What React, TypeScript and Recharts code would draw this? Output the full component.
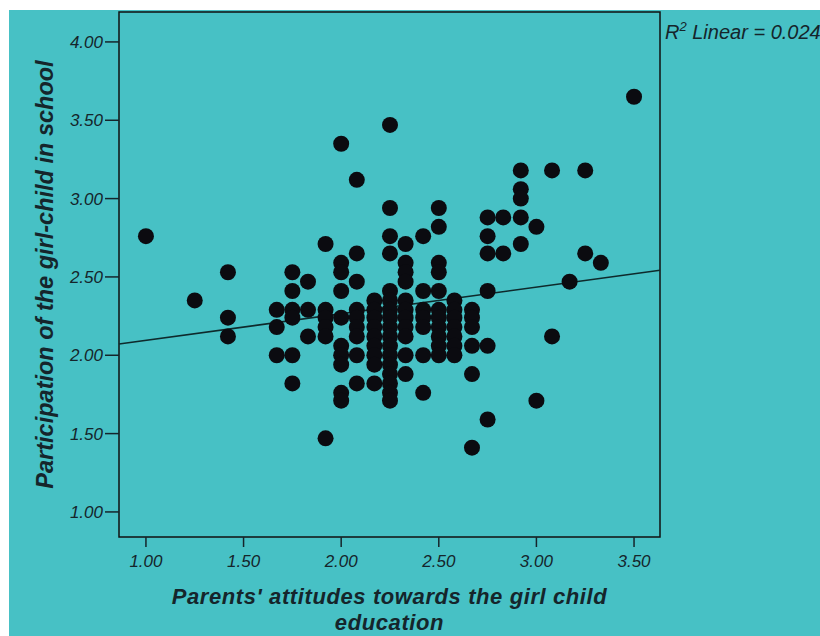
import { ReferenceArea, ReferenceLine, Scatter, ScatterChart, XAxis, YAxis } from 'recharts'

// parents' attitude score (x) -> participation scores (y) of every respondent at that score
const attitudeLevels = [
    1.00, 1.25, 1.42, 1.67, 1.75, 1.83, 1.92, 2.00, 2.08, 2.17, 2.25, 2.33, 2.42, 2.50,
    2.58, 2.67, 2.75, 2.83, 2.92, 3.00, 3.08, 3.17, 3.25, 3.33, 3.50,
]

const participationByLevel = [
    [2.76],
    [2.35],
    [2.53, 2.24, 2.12],
    [2.29, 2.18, 2.00],
    [2.53, 2.41, 2.29, 2.24, 2.00, 1.82],
    [2.47, 2.29, 2.12],
    [2.71, 2.29, 2.24, 2.18, 2.12, 1.47],
    [3.35, 2.59, 2.53, 2.41, 2.24, 2.06, 2.00, 1.94, 1.76, 1.71],
    [3.12, 2.65, 2.47, 2.29, 2.24, 2.18, 2.12, 2.00, 1.82],
    [2.35, 2.29, 2.24, 2.18, 2.12, 2.06, 2.00, 1.94, 1.82],
    [3.47, 2.94, 2.76, 2.65, 2.41, 2.35, 2.29, 2.24, 2.18, 2.12, 2.06, 2.00, 1.94, 1.88, 1.82, 1.76, 1.71],
    [2.71, 2.59, 2.53, 2.47, 2.35, 2.29, 2.24, 2.18, 2.12, 2.00, 1.88],
    [2.76, 2.41, 2.29, 2.24, 2.18, 2.00, 1.76],
    [2.94, 2.82, 2.59, 2.53, 2.41, 2.29, 2.24, 2.18, 2.12, 2.06, 2.00],
    [2.35, 2.29, 2.24, 2.18, 2.12, 2.06, 2.00],
    [2.29, 2.24, 2.18, 2.06, 1.88, 1.41],
    [2.88, 2.76, 2.65, 2.41, 2.06, 1.59],
    [2.88, 2.65],
    [3.18, 3.06, 3.00, 2.88, 2.71],
    [2.82, 1.71],
    [3.18, 2.12],
    [2.47],
    [3.18, 2.65],
    [2.59],
    [3.65],
]

const xTicks = [1.0, 1.5, 2.0, 2.5, 3.0, 3.5]
const yTicks = [1.0, 1.5, 2.0, 2.5, 3.0, 3.5, 4.0]
const xDomain = [0.862, 3.633]
const yDomain = [0.84, 4.191]

// fitted line (R2 linear = 0.024)
const fitIntercept = 1.925
const fitSlope = 0.17

const points = attitudeLevels.flatMap((x, i) => participationByLevel[i].map(y => ({ x, y })))

const teal = '#47c1c5'
const ink = '#15252b'
const font = '"Liberation Sans", Arial, sans-serif'
const narrow = '"Liberation Sans Narrow", "Arial Narrow", "Liberation Sans", sans-serif'

const Dot = (props: any) => <circle cx={props.cx} cy={props.cy} r={8} fill="#0b0b10" />

const XTitle = (props: any) => {
    const { x, y, width } = props.viewBox
    const cx = x + width / 2
    return (
        <text x={cx} y={y + 67} textAnchor="middle" fill={ink} fontFamily={font}
            fontSize={22} fontWeight="bold" fontStyle="italic" letterSpacing={0.6}>
            <tspan x={cx}>Parents' attitudes towards the girl child</tspan>
            <tspan x={cx} dy={26}>education</tspan>
        </text>
    )
}

const YTitle = (props: any) => {
    const { y, height } = props.viewBox
    const cy = y + height / 2
    return (
        <text x={36} y={cy} transform={`rotate(-90, 36, ${cy})`} textAnchor="middle"
            dominantBaseline="central" fill={ink} fontFamily={font}
            fontSize={23.5} fontWeight="bold" fontStyle="italic">
            Participation of the girl-child in school
        </text>
    )
}

const tickStyle = { fill: ink, fontSize: 17, fontStyle: 'italic', fontFamily: narrow }

const App = () => {
    return (
        <div style={{ position: 'absolute', left: 9, top: 10, width: 811, height: 626, background: teal, overflow: 'hidden' }}>
            <ScatterChart width={811} height={626} margin={{ top: 2, right: 160, bottom: 0, left: 0 }}>
                <XAxis type="number" dataKey="x" domain={xDomain} ticks={xTicks} allowDataOverflow
                    tickFormatter={(v: number) => v.toFixed(2)} tick={tickStyle}
                    axisLine={false} tickLine={{ stroke: ink, strokeWidth: 1.5 }} tickSize={10} tickMargin={8}
                    height={99} label={{ content: XTitle }} />
                <YAxis type="number" dataKey="y" domain={yDomain} ticks={yTicks} allowDataOverflow
                    tickFormatter={(v: number) => v.toFixed(2)} tick={tickStyle}
                    axisLine={false} tickLine={{ stroke: ink, strokeWidth: 1.5 }} tickSize={14} tickMargin={2}
                    width={110} label={{ content: YTitle }} />
                <ReferenceArea x1={xDomain[0]} x2={xDomain[1]} y1={yDomain[0]} y2={yDomain[1]}
                    fill="none" stroke="#111" strokeWidth={1.5} ifOverflow="visible" />
                <ReferenceLine
                    segment={[
                        { x: xDomain[0], y: fitIntercept + fitSlope * xDomain[0] },
                        { x: xDomain[1], y: fitIntercept + fitSlope * xDomain[1] },
                    ]}
                    stroke="#0e2a2c" strokeWidth={1.6} ifOverflow="visible" />
                <Scatter data={points} shape={Dot} isAnimationActive={false} />
            </ScatterChart>
            <div style={{ position: 'absolute', left: 656, top: 9, whiteSpace: 'nowrap', fontFamily: narrow,
                fontSize: 20, fontStyle: 'italic', color: ink }}>
                R<sup style={{ fontSize: 13 }}>2</sup> Linear = 0.024
            </div>
        </div>
    )
}

export default App
